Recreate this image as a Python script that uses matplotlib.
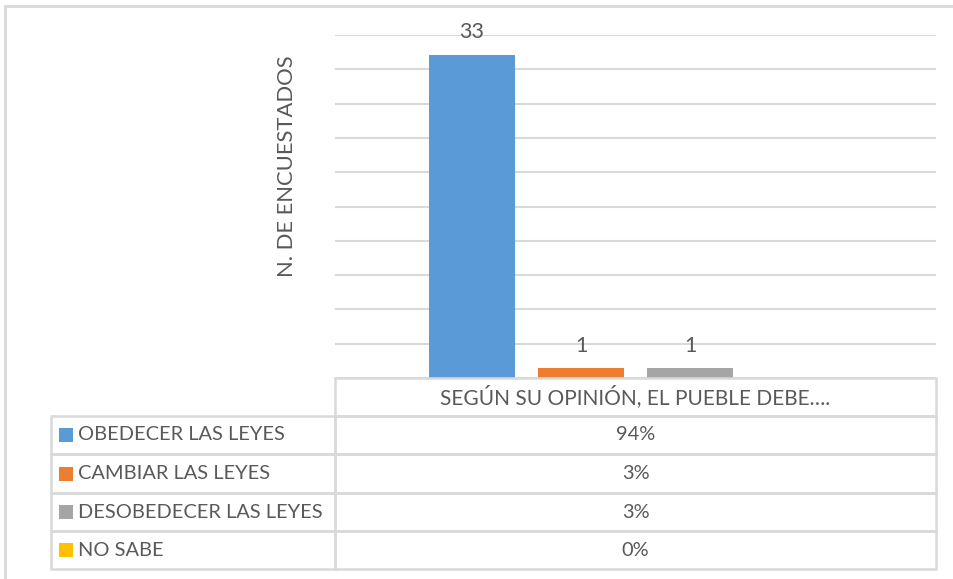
import matplotlib.pyplot as plt
from matplotlib.patches import Rectangle
import numpy as np

plt.rcParams['font.family'] = ['Lato', 'DejaVu Sans']

# Data
categories = ['OBEDECER LAS LEYES', 'CAMBIAR LAS LEYES', 'DESOBEDECER LAS LEYES', 'NO SABE']
counts = [33, 1, 1, 0]
percents = ['94%', '3%', '3%', '0%']
series_title = 'SEGÚN SU OPINIÓN, EL PUEBLE DEBE….'
y_label = 'N. DE ENCUESTADOS'
colors = ['#5B9BD5', '#ED7D31', '#A5A5A5', '#FFC000']

W, H = 954, 579
text_col = '#595959'
line_col = '#D9D9D9'
fs = 14.4

fig = plt.figure(figsize=(W / 100, H / 100), dpi=100)

# outer chart frame
fig.add_artist(Rectangle((5 / W, -0.1), 1.2, 1 - 6 / H + 0.1, transform=fig.transFigure,
                         fill=False, edgecolor=line_col, linewidth=2))

# plot area
px0, px1, py_top, py_bot = 335, 936, 35, 378
ax = fig.add_axes([px0 / W, 1 - py_bot / H, (px1 - px0) / W, (py_bot - py_top) / H])
x = np.arange(len(categories))
bars = ax.bar(x, counts, width=0.79, color=colors, zorder=3)
ax.set_xlim(-1.257, len(categories) - 1 + 1.257)
ax.set_ylim(0, 35)
ax.set_yticks(np.arange(0, 35.1, 3.5))
ax.grid(axis='y', color=line_col, linewidth=1.5, zorder=0)
ax.tick_params(left=False, bottom=False, labelleft=False, labelbottom=False)
for s in ax.spines.values():
    s.set_visible(False)

for b, v in zip(bars, counts):
    if v > 0:
        ax.annotate(str(v), (b.get_x() + b.get_width() / 2, v), xytext=(0, 9),
                    textcoords='offset points', ha='center', va='bottom',
                    fontsize=15.5, color=text_col)

fig.text(287 / W, 1 - 166 / H, y_label, rotation=90, ha='center', va='center',
         fontsize=15.8, color=text_col)

# data table
tx0, tsplit, tx1 = 51, 335, 936
row_y = [378, 416, 454, 493, 531, 569]
tab = fig.add_axes([0, 0, 1, 1])
tab.set_xlim(0, W)
tab.set_ylim(H, 0)
tab.axis('off')
lw = 1.8
# header cell (right column only)
tab.add_patch(Rectangle((tsplit, row_y[0]), tx1 - tsplit, row_y[1] - row_y[0],
                        fill=False, edgecolor=line_col, linewidth=lw))
tab.text((tsplit + tx1) / 2, (row_y[0] + row_y[1]) / 2, series_title,
         ha='center', va='center', fontsize=15, color=text_col)
for i, (cat, pct, c) in enumerate(zip(categories, percents, colors)):
    y0, y1 = row_y[i + 1], row_y[i + 2]
    yc = (y0 + y1) / 2
    tab.add_patch(Rectangle((tx0, y0), tsplit - tx0, y1 - y0, fill=False,
                            edgecolor=line_col, linewidth=lw))
    tab.add_patch(Rectangle((tsplit, y0), tx1 - tsplit, y1 - y0, fill=False,
                            edgecolor=line_col, linewidth=lw))
    tab.add_patch(Rectangle((59, yc - 7), 14, 14, color=c, linewidth=0))
    tab.text(78, yc, cat, ha='left', va='center', fontsize=fs, color=text_col)
    tab.text((tsplit + tx1) / 2, yc, pct, ha='center', va='center',
             fontsize=fs, color=text_col)

fig.savefig('out.png', dpi=100)
